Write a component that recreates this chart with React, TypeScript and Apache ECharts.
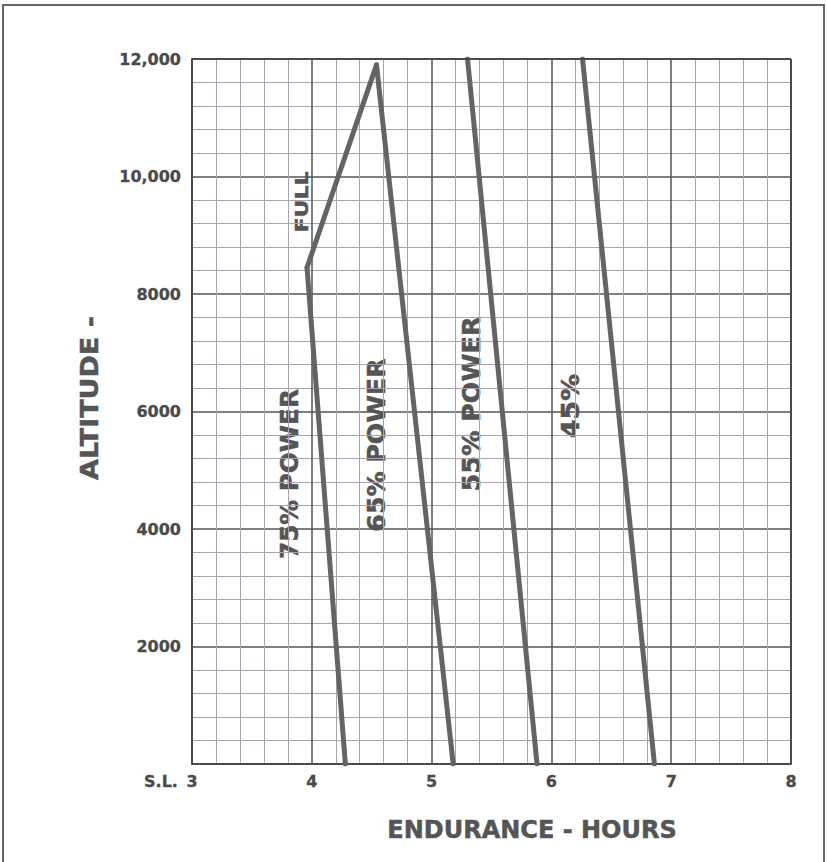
import React, { useEffect, useRef } from "react";
import * as echarts from "echarts";

const yTickLabels = ["S.L.", "2000", "4000", "6000", "8000", "10,000", "12,000"];
const xTickLabels = ["3", "4", "5", "6", "7", "8"];

const power75: number[][] = [[4.28, 0], [3.96, 8450]];
const powerFull: number[][] = [[3.96, 8450], [4.54, 11900]];
const power65: number[][] = [[4.54, 11900], [5.18, 0]];
const power55: number[][] = [[5.30, 12000], [5.88, 0]];
const power45: number[][] = [[6.26, 12000], [6.86, 0]];

const curveLabels = [
  { text: "75% POWER", x: 290, y: 474, size: 24, stretch: 1.03 },
  { text: "65% POWER", x: 377, y: 445, size: 24, stretch: 1.05 },
  { text: "55% POWER", x: 472, y: 404, size: 24, stretch: 1.06 },
  { text: "45%", x: 571, y: 406, size: 24, stretch: 1.12 },
  { text: "FULL", x: 302, y: 202, size: 18, stretch: 1.22 },
];

const FONT = "DejaVu Sans";
const TXT = "#4a4a4a";

export default function App() {
  const ref = useRef<HTMLDivElement>(null);
  useEffect(() => {
    if (!ref.current) return;
    const chart = echarts.init(ref.current, null, { renderer: "svg" });
    const lineSeries = (name: string, data: number[][]) => ({
      name,
      type: "line",
      data,
      symbol: "none",
      lineStyle: { color: "#646464", width: 5, cap: "round", join: "round" },
      silent: true,
    });
    const textStyle = (text: string, size: number, fill = "#555", sw = 0.5) => ({
      text,
      font: `bold ${size}px "${FONT}"`,
      fill,
      stroke: fill,
      lineWidth: sw,
      textAlign: "center",
      textVerticalAlign: "middle",
    });
    const axisLabelBase = {
      color: TXT,
      fontFamily: FONT,
      fontWeight: "bold",
      fontSize: 16,
      textBorderColor: TXT,
      textBorderWidth: 0.3,
    };
    chart.setOption({
      animation: false,
      backgroundColor: "#ffffff",
      grid: { left: 192, top: 59, right: 36, bottom: 98, containLabel: false },
      xAxis: {
        type: "value",
        min: 3,
        max: 8,
        interval: 1,
        axisLine: { show: true, lineStyle: { color: "#4a4a4a", width: 2 } },
        axisTick: { show: false },
        axisLabel: {
          ...axisLabelBase,
          margin: 9,
          formatter: (v: number) => xTickLabels[Math.round(v - 3)] ?? "",
        },
        splitLine: { show: true, lineStyle: { color: "#555", width: 1.5 } },
        minorTick: { show: false, splitNumber: 5 },
        minorSplitLine: { show: true, lineStyle: { color: "#aaa2ae", width: 1 } },
      },
      yAxis: {
        type: "value",
        min: 0,
        max: 12000,
        interval: 2000,
        axisLine: { show: true, lineStyle: { color: "#4a4a4a", width: 2 } },
        axisTick: { show: false },
        axisLabel: {
          ...axisLabelBase,
          margin: 11,
          formatter: (v: number) => (v === 0 ? "" : yTickLabels[Math.round(v / 2000)] ?? ""),
        },
        splitLine: { show: true, lineStyle: { color: "#555", width: 1.5 } },
        minorTick: { show: false, splitNumber: 5 },
        minorSplitLine: { show: true, lineStyle: { color: "#aaa2ae", width: 1 } },
      },
      series: [
        lineSeries("75% POWER", power75),
        lineSeries("FULL", powerFull),
        lineSeries("65% POWER", power65),
        lineSeries("55% POWER", power55),
        lineSeries("45%", power45),
        {
          type: "line",
          data: [],
          markLine: {
            silent: true,
            symbol: "none",
            label: { show: false },
            lineStyle: { color: "#4a4a4a", width: 2, type: "solid" },
            data: [[{ coord: [3, 12000] }, { coord: [8, 12000] }], [{ coord: [8, 0] }, { coord: [8, 12000] }]],
          },
        },
      ],
      graphic: [
        {
          type: "rect",
          shape: { x: 3, y: 5, width: 821, height: 880 },
          style: { fill: "none", stroke: "#666", lineWidth: 2 },
          silent: true,
        },
        { type: "text", x: 161, y: 781, style: textStyle(yTickLabels[0], 16, TXT, 0.3) },
        {
          type: "text",
          x: 89,
          y: 398,
          rotation: Math.PI / 2,
          scaleX: 1.08,
          style: textStyle("ALTITUDE -", 25),
        },
        { type: "text", x: 532, y: 830, style: textStyle("ENDURANCE - HOURS", 24) },
        ...curveLabels.map((l) => ({
          type: "text",
          x: l.x,
          y: l.y,
          rotation: Math.PI / 2,
          scaleX: l.stretch,
          style: textStyle(l.text, l.size),
        })),
      ],
    });
    return () => chart.dispose();
  }, []);
  return (
    <div
      ref={ref}
      style={{ position: "absolute", left: 0, top: 0, width: 827, height: 862, background: "#fff" }}
    />
  );
}
